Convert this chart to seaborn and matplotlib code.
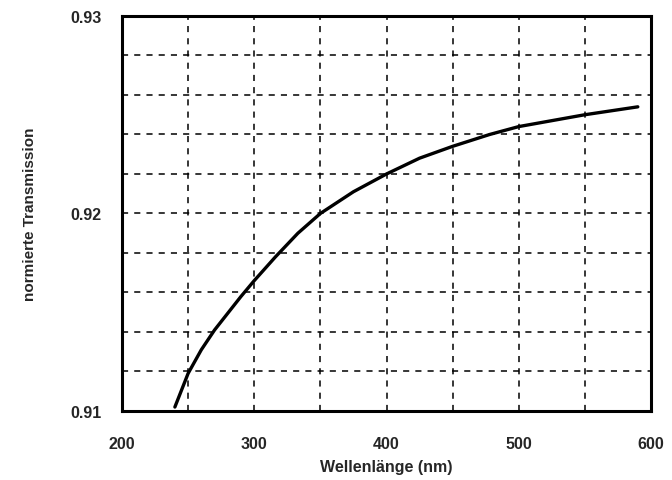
import matplotlib
matplotlib.use("Agg")
import matplotlib.pyplot as plt
from matplotlib.ticker import MultipleLocator, FormatStrFormatter
import seaborn as sns
import pandas as pd

# Normalised transmission versus wavelength
wellenlaenge = [240, 250, 260, 270, 290, 300, 316, 333, 350, 375, 400, 425, 450, 478, 500, 550, 590]
transmission = [0.9102, 0.9119, 0.9131, 0.9141, 0.9158, 0.9166, 0.9178, 0.9190, 0.9200,
                0.9211, 0.9220, 0.9228, 0.9234, 0.9240, 0.9244, 0.9250, 0.9254]

x_ticks = [200, 300, 400, 500, 600]
y_ticks = [0.91, 0.92, 0.93]

df = pd.DataFrame({"Wellenlänge (nm)": wellenlaenge,
                   "normierte Transmission": transmission})

sns.set_style("white")
plt.rcParams["font.family"] = ["Liberation Sans", "DejaVu Sans"]
plt.rcParams["font.weight"] = "bold"

fig = plt.figure(figsize=(6.72, 4.81), dpi=100)
ax = fig.add_axes([0.1815, 0.1435, 0.7873, 0.8212])

sns.lineplot(data=df, x="Wellenlänge (nm)", y="normierte Transmission",
             color="black", linewidth=2.4, ax=ax)

ax.set_xlim(200, 600)
ax.set_ylim(0.91, 0.93)
ax.set_xticks(x_ticks)
ax.set_yticks(y_ticks)
ax.xaxis.set_minor_locator(MultipleLocator(50))
ax.yaxis.set_minor_locator(MultipleLocator(0.002))
ax.yaxis.set_major_formatter(FormatStrFormatter("%.2f"))

grid_style = dict(color="black", linestyle=(0, (4, 4)), linewidth=1.1)
ax.grid(True, which="both", **grid_style)
ax.set_axisbelow(True)

ax.tick_params(axis="both", which="both", length=0, labelsize=11.5)
ax.tick_params(axis="x", pad=18)
ax.tick_params(axis="y", pad=15)
for lab in ax.get_xticklabels() + ax.get_yticklabels():
    lab.set_fontweight("heavy")

for side in ["left", "right", "top", "bottom"]:
    ax.spines[side].set_visible(True)
    ax.spines[side].set_color("black")
    ax.spines[side].set_linewidth(2.2)

ax.set_xlabel("Wellenlänge (nm)", fontsize=11.5, fontweight="heavy", labelpad=6)
ax.set_ylabel("normierte Transmission", fontsize=11, fontweight="heavy", labelpad=24)

fig.savefig("out.png", dpi=100)
